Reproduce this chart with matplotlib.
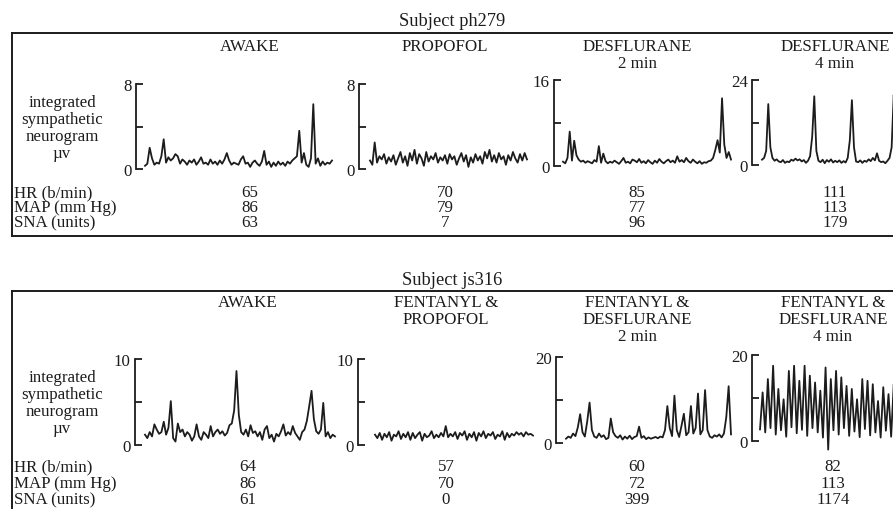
# Sympathetic neurogram traces, two subjects, four conditions each
import matplotlib
matplotlib.use("Agg")
import matplotlib.pyplot as plt

W, H = 893, 510
ink = "#1c1c1c"
plt.rcParams["font.family"] = ["Liberation Serif", "DejaVu Serif"]
FS = 12.2

# ---- data ----
top_titles = [["AWAKE"], ["PROPOFOL"], ["DESFLURANE", "2 min"], ["DESFLURANE", "4 min"]]
bot_titles = [["AWAKE"], ["FENTANYL &", "PROPOFOL"],
              ["FENTANYL &", "DESFLURANE", "2 min"], ["FENTANYL &", "DESFLURANE", "4 min"]]
top_scale = [8, 8, 16, 24]
bot_scale = [10, 10, 20, 20]

top_hr = [65, 70, 85, 111]
top_map = [86, 79, 77, 113]
top_sna = [63, 7, 96, 179]
bot_hr = [64, 57, 60, 82]
bot_map = [86, 70, 72, 113]
bot_sna = [61, 0, 399, 1174]

ph_awake = [0.3, 0.5, 2.0, 1.0, 0.4, 0.6, 0.5, 1.2, 2.8, 0.6, 1.1, 0.8, 1.0, 1.4, 1.2, 0.5,
            0.9, 0.7, 0.4, 0.8, 0.6, 0.9, 0.4, 0.7, 1.1, 0.5, 0.6, 0.4, 0.9, 0.5, 0.7, 0.4,
            0.8, 0.5, 0.9, 1.5, 0.8, 0.4, 0.6, 0.5, 0.4, 0.9, 1.2, 0.5, 0.6, 0.2, 0.6, 0.8,
            0.5, 0.3, 0.7, 1.7, 0.4, 0.7, 0.2, 0.6, 0.3, 0.7, 0.4, 0.6, 0.3, 0.7, 0.5, 0.8,
            1.0, 1.2, 3.6, 0.6, 1.5, 0.4, 0.2, 1.0, 6.1, 0.5, 1.0, 0.3, 0.7, 0.4, 0.6, 0.5, 0.8]
ph_propofol = [0.8, 0.4, 2.5, 0.6, 1.2, 0.9, 1.4, 0.5, 1.1, 0.7, 1.3, 0.4, 1.0, 1.6, 0.6, 1.2,
               0.3, 1.5, 0.8, 1.8, 0.5, 1.4, 1.0, 0.3, 1.6, 0.7, 1.2, 0.9, 1.5, 0.6, 1.1, 0.8,
               1.3, 0.5, 1.4, 0.9, 1.2, 0.4, 1.0, 1.5, 0.7, 1.3, 0.2, 1.1, 0.6, 1.4, 0.8, 1.2,
               0.5, 1.6, 1.0, 1.8, 0.7, 1.3, 0.6, 1.5, 0.9, 1.2, 0.4, 1.3, 0.8, 1.6, 1.0, 0.6,
               1.4, 0.8, 1.5, 0.9]
ph_desf2 = [0.8, 0.5, 1.5, 6.4, 1.0, 4.7, 2.0, 1.2, 0.8, 1.0, 0.6, 0.9, 0.7, 0.5, 1.1, 0.8,
            3.7, 0.6, 2.3, 0.9, 0.5, 0.8, 0.6, 1.0, 0.7, 0.4, 0.9, 1.5, 0.6, 0.8, 0.5, 1.2,
            1.0, 0.7, 1.3, 0.6, 0.9, 0.5, 1.1, 0.7, 0.4, 1.0, 0.6, 1.3, 0.8, 0.5, 0.9, 1.2,
            0.7, 1.0, 0.6, 1.8, 0.8, 1.1, 0.7, 1.5, 0.9, 0.6, 1.2, 0.8, 0.5, 0.9, 0.4, 0.7,
            0.6, 0.9, 1.0, 1.5, 3.0, 4.8, 2.5, 12.6, 4.0, 1.5, 2.6, 1.2]
ph_desf4 = [1.5, 2.0, 4.0, 17.2, 5.0, 2.0, 1.2, 1.6, 1.0, 0.8, 1.4, 0.6, 1.0, 0.8, 1.5, 1.2,
            1.8, 1.3, 1.6, 1.0, 1.4, 0.6, 1.2, 2.5, 8.0, 19.4, 4.0, 1.2, 0.8, 1.5, 0.5, 1.4,
            0.9, 1.6, 0.7, 1.2, 0.8, 1.3, 0.6, 1.1, 0.7, 2.0, 7.0, 18.3, 5.0, 1.0, 0.8, 1.3,
            0.6, 1.2, 0.9, 1.6, 1.1, 2.0, 1.3, 3.3, 1.2, 0.8, 1.0, 0.5, 1.2, 2.0, 5.0, 19.8,
            10.0, 3.0, 1.5]

js_awake = [1.2, 0.8, 1.5, 1.0, 2.4, 1.8, 1.3, 1.5, 2.7, 1.2, 2.0, 5.1, 0.8, 0.4, 2.5, 1.5,
            1.8, 1.0, 1.5, 1.2, 0.5, 1.0, 2.4, 1.0, 0.6, 1.5, 1.2, 0.8, 2.2, 1.0, 1.5, 1.8,
            1.3, 1.6, 1.1, 1.4, 2.3, 2.5, 4.0, 8.6, 3.5, 1.5, 1.2, 1.8, 1.0, 2.3, 1.4, 1.6,
            1.0, 1.5, 0.6, 1.8, 2.2, 0.8, 1.2, 0.4, 1.3, 1.0, 1.6, 2.4, 1.1, 1.5, 1.2, 2.2,
            1.4, 1.0, 0.6, 1.5, 1.8, 2.8, 4.5, 6.3, 3.0, 1.6, 1.3, 1.8, 4.9, 1.0, 1.5, 0.8,
            1.2, 1.0]
js_propofol = [1.2, 0.8, 1.4, 0.6, 1.3, 0.9, 1.5, 0.5, 1.2, 1.0, 1.6, 0.7, 1.3, 0.9, 1.5, 0.6,
               1.4, 0.8, 1.2, 1.5, 0.5, 1.3, 0.9, 1.1, 1.6, 0.8, 1.2, 0.9, 1.4, 1.0, 2.2, 0.9,
               1.3, 1.0, 1.5, 0.7, 1.4, 1.1, 1.6, 0.6, 1.3, 0.9, 1.5, 0.5, 1.4, 1.0, 1.6, 0.8,
               1.3, 1.1, 1.5, 0.7, 1.2, 1.0, 1.6, 0.6, 1.4, 0.9, 1.3, 1.1, 1.5, 1.2, 1.4, 1.0,
               1.5, 1.2, 1.3, 1.1]
js_desf2 = [1.0, 1.5, 1.2, 2.2, 1.6, 3.6, 6.7, 2.5, 1.5, 5.0, 9.4, 3.0, 1.5, 1.2, 2.2, 1.4,
            1.8, 0.9, 1.2, 5.7, 2.5, 1.6, 1.2, 1.8, 0.8, 1.5, 1.0, 1.7, 0.9, 1.4, 1.6, 3.8,
            1.2, 1.6, 0.9, 1.3, 1.0, 1.2, 1.4, 1.1, 1.5, 1.3, 3.0, 8.6, 3.5, 1.6, 11.0, 3.0,
            1.4, 4.0, 6.8, 1.8, 2.5, 8.6, 2.2, 3.5, 11.5, 2.0, 3.0, 12.3, 3.0, 1.5, 1.2, 1.8,
            1.5, 2.0, 1.3, 2.2, 6.0, 13.2, 2.0]
js_desf4 = [2.7, 11.3, 2.0, 14.4, 3.0, 17.5, 1.5, 12.1, 2.5, 9.7, 1.0, 16.3, 3.2, 17.5, 1.8,
            14.0, 2.6, 17.5, 1.2, 15.2, 3.0, 13.6, 2.0, 11.7, 0.8, 17.1, -2.0, 14.4, 2.5, 16.3,
            1.5, 14.8, 3.0, 12.8, 1.2, 12.1, 2.2, 9.7, 0.9, 14.4, 2.8, 14.0, 1.3, 13.2, 2.0,
            9.3, 0.8, 12.5, 2.4, 10.9, 1.0, 13.2, 2.2, 15.0]

top_traces = [ph_awake, ph_propofol, ph_desf2, ph_desf4]
bot_traces = [js_awake, js_propofol, js_desf2, js_desf4]

# ---- layout (pixels) ----
# bracket x, trace start x, trace end x, top y, bottom y
top_boxes = [(136, 145, 332, 85, 170), (359, 370, 527, 85, 170),
             (554, 563, 731, 81, 167), (752, 762, 900, 81, 166)]
bot_boxes = [(135, 145, 335, 360, 446), (358, 375, 533, 360, 446),
             (556, 566, 731, 358, 444), (752, 760, 899, 356, 442)]
top_cols = [250, 445, 637, 835]
bot_cols = [248, 446, 637, 833]

fig = plt.figure(figsize=(W / 100, H / 100), dpi=100)
fig.patch.set_facecolor("white")

bg = fig.add_axes([0, 0, 1, 1])
bg.set_xlim(0, W)
bg.set_ylim(H, 0)
bg.axis("off")


def trace(vals, ymax, box):
    bx, x0, x1, yt, yb = box
    ax = fig.add_axes([bx / W, 1 - yb / H, (x1 - bx) / W, (yb - yt) / H])
    n = len(vals)
    step = (x1 - x0) / (n - 1)
    ax.set_xlim(-(x0 - bx) / step, n - 1)
    ax.set_ylim(0, ymax)
    ax.plot(range(n), vals, color=ink, lw=1.3, clip_on=False)
    for s in ["top", "right", "bottom"]:
        ax.spines[s].set_visible(False)
    ax.spines["left"].set_color(ink)
    ax.spines["left"].set_linewidth(1.3)
    ax.set_xticks([])
    ax.set_yticks([0, ymax / 2, ymax])
    ax.set_yticklabels(["0", "", str(ymax)])
    ax.tick_params(axis="y", direction="in", length=5, width=1.3, pad=3,
                   labelsize=FS, colors=ink)
    ax.patch.set_alpha(0)


def panel(subject, y_sub, y_frame, titles, y_title, traces, scales, boxes, cols,
          rows, y_rows, y_lbl, y_bottom=None):
    bg.text(452, y_sub, subject, ha="center", va="center", fontsize=FS + 1, color=ink)
    bg.plot([12, 900], [y_frame, y_frame], color=ink, lw=1.4)
    y_end = y_bottom if y_bottom is not None else H + 5
    bg.plot([12, 12], [y_frame, y_end], color=ink, lw=1.4)
    if y_bottom is not None:
        bg.plot([12, 900], [y_bottom, y_bottom], color=ink, lw=1.4)
    for t, c in zip(titles, cols):
        for i, line in enumerate(t):
            bg.text(c, y_title + 17 * i, line, ha="center", va="center",
                    fontsize=FS, color=ink)
    for v, m, b in zip(traces, scales, boxes):
        trace(v, m, b)
    for j, line in enumerate(["integrated", "sympathetic", "neurogram", "\u00b5v"]):
        bg.text(62, y_lbl + 17 * j, line, ha="center", va="center", fontsize=FS, color=ink)
    names = ["HR (b/min)", "MAP (mm Hg)", "SNA (units)"]
    for name, vals, yy in zip(names, rows, y_rows):
        bg.text(14, yy, name, ha="left", va="center", fontsize=FS, color=ink)
        for v, c in zip(vals, cols):
            bg.text(c, yy, str(v), ha="center", va="center", fontsize=FS, color=ink)


panel("Subject ph279", 21, 34, top_titles, 47, top_traces, top_scale, top_boxes,
      top_cols, [top_hr, top_map, top_sna], [193, 208, 223], 103, y_bottom=237)
panel("Subject js316", 281, 292, bot_titles, 303, bot_traces, bot_scale, bot_boxes,
      bot_cols, [bot_hr, bot_map, bot_sna], [467, 484, 500], 378)

fig.savefig("out.png", dpi=100, facecolor="white")
